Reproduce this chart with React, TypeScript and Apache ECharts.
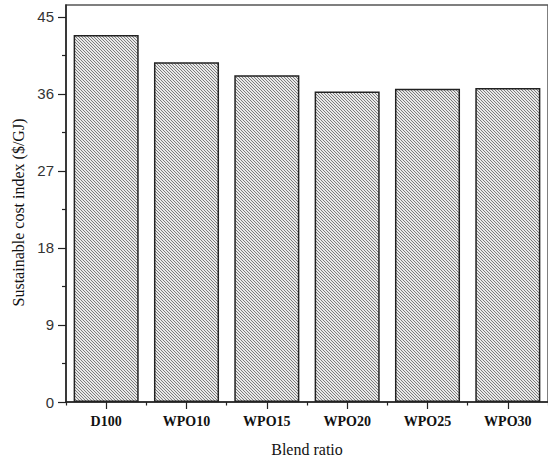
import React, { useEffect, useRef } from "react";
import * as echarts from "echarts";

const categories = ["D100", "WPO10", "WPO15", "WPO20", "WPO25", "WPO30"];
const costIndex = [42.9, 39.7, 38.2, 36.3, 36.6, 36.7];
const yMajorTicks = [0, 9, 18, 27, 36, 45];
const yMinorTicks = [4.5, 13.5, 22.5, 31.5, 40.5];

function makeHatch(): HTMLCanvasElement {
  const c = document.createElement("canvas");
  c.width = 3;
  c.height = 3;
  const ctx = c.getContext("2d")!;
  ctx.fillStyle = "#e8e8e8";
  ctx.fillRect(0, 0, 3, 3);
  ctx.fillStyle = "#7c7c7c";
  for (let i = 0; i < 3; i++) ctx.fillRect(i, i, 1, 1);
  return c;
}

export default function App() {
  const ref = useRef<HTMLDivElement>(null);
  useEffect(() => {
    if (!ref.current) return;
    const chart = echarts.init(ref.current, null, { renderer: "svg" });
    const hatch = makeHatch();
    chart.setOption({
      animation: false,
      backgroundColor: "#ffffff",
      grid: {
        left: 66,
        top: 5,
        right: -7,
        bottom: 59.5,
        show: true,
        borderColor: "#555",
        borderWidth: 1.5,
        containLabel: false,
      },
      xAxis: [
        {
          type: "category",
          data: categories,
          position: "bottom",
          name: "Blend ratio",
          nameLocation: "middle",
          nameGap: 39,
          nameTextStyle: { fontFamily: "Liberation Serif", fontSize: 16, color: "#111" },
          axisLine: { show: true, lineStyle: { color: "#222", width: 1.5 } },
          axisTick: { show: true, alignWithLabel: true, length: 7, lineStyle: { color: "#222", width: 1.2 } },
          axisLabel: {
            fontFamily: "Liberation Serif",
            fontWeight: "bold",
            fontSize: 14,
            color: "#111",
            margin: 12,
          },
        },
        {
          type: "category",
          data: categories,
          position: "bottom",
          axisLine: { show: false },
          axisLabel: { show: false },
          axisTick: { show: true, length: 3.5, lineStyle: { color: "#222", width: 1.2 } },
        },
      ],
      yAxis: [
        {
          type: "value",
          min: 0,
          max: 46.4,
          interval: 9,
          position: "left",
          name: "Sustainable cost index ($/GJ)",
          nameLocation: "middle",
          nameGap: 37,
          nameTextStyle: {
            fontFamily: "Liberation Serif",
            fontSize: 16,
            color: "#111",
            padding: [0, 18, 0, 0],
          },
          splitLine: { show: false },
          axisLine: { show: true, lineStyle: { color: "#222", width: 1.5 } },
          axisTick: { show: true, length: 8, customValues: yMajorTicks, lineStyle: { color: "#222", width: 1.2 } },
          axisLabel: {
            customValues: yMajorTicks,
            fontFamily: "Liberation Sans",
            fontSize: 15,
            color: "#333",
            margin: 12,
          },
        },
        {
          type: "value",
          min: 0,
          max: 46.4,
          interval: 4.5,
          position: "left",
          splitLine: { show: false },
          axisLine: { show: false },
          axisLabel: { show: false },
          axisTick: { show: true, length: 4, customValues: yMinorTicks, lineStyle: { color: "#222", width: 1.2 } },
        },
      ],
      series: [
        {
          type: "bar",
          data: costIndex,
          xAxisIndex: 0,
          yAxisIndex: 0,
          barCategoryGap: "19%",
          itemStyle: {
            color: { image: hatch, repeat: "repeat" },
            borderColor: "#222",
            borderWidth: 1.5,
          },
        },
      ],
    });
    return () => chart.dispose();
  }, []);
  return (
    <div
      ref={ref}
      style={{ position: "fixed", left: 0, top: 0, width: 548, height: 462, background: "#fff" }}
    />
  );
}
